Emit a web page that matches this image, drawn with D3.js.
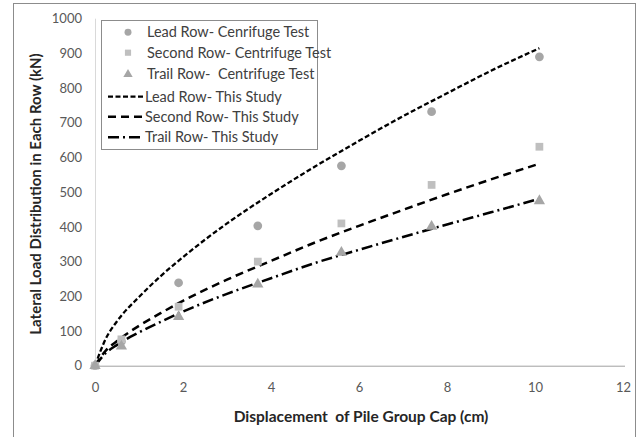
<!DOCTYPE html>
<html><head><meta charset="utf-8">
<script src="https://cdn.jsdelivr.net/npm/d3@7"></script>
<style>body{margin:0;background:#fff}svg{display:block}text{white-space:pre}</style>
</head><body>
<script>
// Test data (markers)
const testX = [0, 0.6, 1.9, 3.7, 5.6, 7.65, 10.1];
const leadTest = [0, 70, 239, 403, 576, 732, 890];
const secondTest = [0, 76, 170, 300, 410, 521, 631];
const trailTest = [0, 56, 141, 235, 326, 401, 475];
// "This Study" curves
const studyX = [0, 0.25, 0.5, 1, 1.5, 2, 3, 4, 5, 6, 7, 8, 9, 10.1];
const leadStudy = [0, 79, 128, 198, 259, 313, 410, 495, 574, 648, 719, 785, 850, 915];
const secondStudy = [0, 44, 71, 115, 152, 187, 248, 302, 355, 403, 449, 494, 537, 582];
const trailStudy = [0, 37, 60, 96, 127, 156, 207, 252, 296, 334, 371, 407, 442, 481];
const xTicks = [0, 2, 4, 6, 8, 10, 12];
const yTicks = [0, 100, 200, 300, 400, 500, 600, 700, 800, 900, 1000];
const legendLabels = ["Lead Row- Cenrifuge Test", "Second Row- Centrifuge Test", "Trail Row-  Centrifuge Test",
  "Lead Row- This Study", "Second Row- This Study", "Trail Row- This Study"];

const W = 641, H = 437;
const svg = d3.select("body").append("svg").attr("width", W).attr("height", H);
const font = "Lato, 'Open Sans', sans-serif";

svg.append("rect").attr("x", 13.5).attr("y", 3.5).attr("width", 622).attr("height", 440)
  .attr("fill", "none").attr("stroke", "#8c8c8c").attr("stroke-width", 1);

const x = d3.scaleLinear().domain([0, 12]).range([95, 623]);
const y = d3.scaleLinear().domain([0, 1000]).range([365.7, 18.7]);

// axes
const xAxis = svg.append("g").attr("transform", `translate(0,${y(0)})`)
  .call(d3.axisBottom(x).tickValues(xTicks).tickFormat(d3.format("d")).tickSize(0).tickPadding(17));
xAxis.select(".domain").attr("stroke", "#a0a0a0").attr("d", `M${x(0)},0.5H625`);
xAxis.selectAll("text").attr("fill", "#595959").style("font-family", font).style("font-size", "13px");

const yAxis = svg.append("g").attr("transform", `translate(${x(0)},0)`)
  .call(d3.axisLeft(y).tickValues(yTicks).tickFormat(d3.format("d")).tickSize(0).tickPadding(13));
yAxis.select(".domain").attr("stroke", "#d9d9d9").attr("d", `M0.5,${y(0)}V${y(1000)}`);
yAxis.selectAll("text").attr("fill", "#595959").style("font-family", font).style("font-size", "13px");

// axis titles
svg.append("text").attr("x", 361).attr("y", 422).attr("text-anchor", "middle")
  .style("font-family", font).style("font-size", "15.5px").style("font-weight", "bold").attr("fill", "#262626")
  .text("Displacement  of Pile Group Cap (cm)");
svg.append("text").attr("transform", "translate(41,194) rotate(-90)").attr("text-anchor", "middle")
  .style("font-family", font).style("font-size", "15px").style("font-weight", "bold").attr("fill", "#262626")
  .text("Lateral Load Distribution in Each Row (kN)");

// study lines
const line = d3.line().x(d => x(d[0])).y(d => y(d[1])).curve(d3.curveMonotoneX);
const studies = [
  {vals: leadStudy, dash: "5,2.5", w: 2.3},
  {vals: secondStudy, dash: "8,5", w: 2.5},
  {vals: trailStudy, dash: "11,4,2,4", w: 2.5}
];
studies.forEach(s => {
  svg.append("path").datum(studyX.map((v, i) => [v, s.vals[i]]))
    .attr("d", line).attr("fill", "none").attr("stroke", "#000")
    .attr("stroke-width", s.w).attr("stroke-dasharray", s.dash);
});

// markers
const mk = (type, size) => d3.symbol().type(type).size(size);
const tests = [
  {vals: leadTest, t: d3.symbolCircle, sz: 60, c: "#a6a6a6"},
  {vals: secondTest, t: d3.symbolSquare, sz: 60, c: "#bfbfbf"},
  {vals: trailTest, t: d3.symbolTriangle, sz: 55, c: "#a6a6a6"}
];
tests.forEach(t => {
  svg.append("g").selectAll("path").data(testX.map((v, i) => [v, t.vals[i]])).join("path")
    .attr("transform", d => `translate(${x(d[0])},${y(d[1])})`)
    .attr("d", mk(t.t, t.sz)()).attr("fill", t.c);
});

// legend
const lg = svg.append("g");
lg.append("rect").attr("x", 101.5).attr("y", 20.5).attr("width", 216).attr("height", 129)
  .attr("fill", "#fff").attr("stroke", "#8c8c8c");
const rowY = [32.3, 52.7, 74.3, 96.7, 116.7, 137.3];
legendLabels.forEach((lbl, i) => {
  const yy = rowY[i];
  if (i < 3) {
    lg.append("path").attr("transform", `translate(128,${yy})`).attr("d", mk(tests[i].t, 38)()).attr("fill", tests[i].c);
  } else {
    const s = studies[i - 3];
    lg.append("line").attr("x1", 108).attr("x2", 144).attr("y1", yy).attr("y2", yy)
      .attr("stroke", "#000").attr("stroke-width", s.w).attr("stroke-dasharray", s.dash);
  }
  lg.append("text").attr("x", i < 3 ? 147 : 145).attr("y", yy).attr("dy", "0.35em")
    .style("font-family", font).style("font-size", "14.5px").attr("fill", "#404040").text(lbl);
});
</script>
</body></html>
